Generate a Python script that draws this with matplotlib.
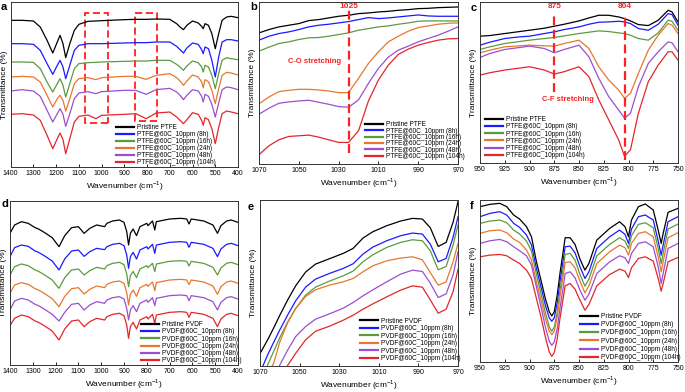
import matplotlib
matplotlib.use("Agg")
import matplotlib.pyplot as plt
from matplotlib.patches import Rectangle

plt.rcParams['font.family'] = ['Liberation Sans', 'DejaVu Sans']
plt.rcParams['mathtext.fontset'] = 'custom'
plt.rcParams['mathtext.rm'] = 'Liberation Sans'

colors = ['#000000', '#1a1aff', '#5b9b3f', '#e8772e', '#9a4fd0', '#e3262c']
ptfe_labels = ['Pristine PTFE', 'PTFE@60C_10ppm (8h)', 'PTFE@60C_10ppm (16h)',
               'PTFE@60C_10ppm (24h)', 'PTFE@60C_10ppm (48h)', 'PTFE@60C_10ppm (104h)']
pvdf_labels = ['Pristine PVDF', 'PVDF@60C_10ppm (8h)', 'PVDF@60C_10ppm (16h)',
               'PVDF@60C_10ppm (24h)', 'PVDF@60C_10ppm (48h)', 'PVDF@60C_10ppm (104h)']

# ---- panel a : PTFE full range (arbitrary transmittance units, curves stacked)
xa = [1400, 1350, 1300, 1270, 1240, 1215, 1195, 1183, 1170, 1158, 1140, 1120, 1100, 1060, 1025,
      1000, 900, 850, 804, 760, 700, 670, 655, 640, 625, 600, 575, 560, 553, 545, 530, 515, 500,
      485, 470, 450, 430, 400]
a_black = [440, 440, 438, 420, 380, 342, 375, 395, 370, 328, 370, 410, 428, 437, 438,
           439, 442, 443, 443, 444, 443, 430, 420, 412, 425, 438, 432, 422, 415, 430, 425, 400, 355,
           400, 440, 450, 452, 448]
a_8h = [370, 370, 368, 350, 310, 278, 305, 320, 300, 265, 305, 350, 365, 370, 370,
        370, 372, 373, 373, 375, 375, 362, 352, 342, 357, 372, 368, 352, 340, 360, 355, 320, 270,
        330, 375, 382, 382, 378]
a_16h = [315, 315, 314, 295, 255, 225, 250, 265, 245, 210, 250, 295, 310, 313, 314,
         315, 317, 318, 318, 320, 320, 308, 300, 290, 303, 318, 313, 300, 285, 305, 300, 275, 235,
         280, 320, 328, 325, 322]
a_24h = [270, 272, 270, 255, 215, 180, 205, 215, 200, 168, 205, 250, 265, 268, 262,
         268, 272, 272, 263, 275, 280, 268, 258, 245, 258, 276, 270, 255, 238, 262, 256, 230, 190,
         235, 275, 284, 282, 276]
a_48h = [228, 232, 228, 212, 170, 135, 160, 175, 158, 122, 160, 205, 222, 226, 220,
         226, 230, 230, 218, 232, 236, 225, 215, 202, 215, 232, 228, 212, 195, 218, 212, 188, 150,
         192, 232, 240, 238, 232]
a_104h = [158, 160, 156, 140, 95, 55, 85, 102, 82, 40, 85, 135, 152, 156, 145,
          155, 158, 160, 145, 162, 165, 150, 140, 130, 142, 163, 158, 140, 125, 148, 142, 115, 70,
          118, 160, 168, 165, 160]

# ---- panel b : PTFE 1070-970
xb = [1070, 1065, 1060, 1055, 1050, 1045, 1040, 1035, 1030, 1025, 1020, 1015, 1010, 1005, 1000,
      995, 990, 985, 980, 975, 970]
b_black = [395, 405, 413, 418, 423, 432, 435, 440, 445, 448, 453, 455, 458, 460, 463,
           465, 468, 469, 471, 472, 473]
b_8h = [373, 385, 393, 398, 405, 413, 418, 421, 425, 429, 435, 441, 438, 440, 443,
        446, 449, 446, 445, 445, 445]
b_16h = [340, 352, 363, 368, 375, 380, 381, 385, 390, 395, 403, 408, 413, 416, 421,
         425, 430, 431, 431, 431, 431]
b_24h = [181, 202, 218, 222, 225, 225, 223, 220, 215, 215, 258, 303, 338, 368, 385,
         400, 411, 416, 421, 424, 425]
b_48h = [150, 168, 183, 187, 190, 192, 186, 180, 173, 171, 193, 243, 288, 322, 343,
         355, 368, 378, 388, 400, 413]
b_104h = [28, 55, 73, 83, 85, 87, 81, 73, 65, 65, 100, 190, 253, 298, 330,
          346, 358, 366, 373, 377, 378]

# ---- panel c : PTFE 950-750
xc = [950, 940, 925, 910, 900, 885, 875, 865, 850, 840, 830, 820, 810, 804, 798, 790, 780, 770,
      760, 756, 750]
c_black = [382, 384, 390, 396, 400, 406, 412, 418, 428, 437, 445, 445, 440, 435, 428, 417, 414, 430,
           460, 455, 425]
c_8h = [355, 364, 375, 380, 382, 390, 395, 402, 410, 418, 424, 425, 427, 425, 420, 405, 400, 418,
        450, 447, 415]
c_16h = [342, 350, 360, 366, 370, 375, 378, 383, 390, 394, 398, 396, 392, 390, 385, 375, 370, 392,
         430, 427, 400]
c_24h = [332, 340, 350, 353, 355, 353, 352, 360, 370, 345, 290, 250, 220, 195, 210, 270, 340, 385,
         420, 415, 390]
c_48h = [318, 330, 342, 348, 352, 345, 332, 342, 355, 320, 255, 200, 160, 135, 150, 230, 300, 335,
         365, 362, 335]
c_104h = [265, 272, 280, 286, 290, 280, 268, 275, 290, 260, 190, 130, 70, 20, 40, 150, 245, 295,
          335, 335, 310]

# ---- panel d : PVDF full range
xd = [1400, 1380, 1350, 1320, 1290, 1275, 1250, 1215, 1185, 1160, 1130, 1100, 1075, 1050, 1020,
      985, 975, 950, 920, 900, 888, 880, 872, 860, 845, 830, 800, 795, 775, 765, 758, 700, 650,
      625, 615, 605, 550, 510, 490, 475, 450, 430, 400]
d_black = [395, 420, 430, 425, 412, 408, 398, 382, 355, 388, 412, 415, 395, 410, 420,
           415, 425, 432, 435, 428, 400, 360, 395, 408, 388, 415, 425, 418, 432, 405, 430, 438, 440,
           438, 423, 438, 432, 420, 395, 418, 432, 435, 428]
d_8h = [325, 352, 360, 356, 342, 338, 328, 312, 285, 318, 342, 345, 326, 340, 350,
        346, 355, 362, 365, 358, 330, 290, 325, 338, 318, 345, 355, 348, 362, 335, 360, 368, 370,
        368, 353, 368, 362, 350, 325, 348, 362, 365, 358]
d_16h = [270, 295, 303, 298, 285, 281, 271, 255, 230, 262, 285, 288, 270, 283, 293,
         288, 298, 305, 308, 301, 273, 235, 268, 281, 262, 288, 298, 292, 305, 280, 303, 311, 313,
         311, 297, 311, 305, 293, 270, 291, 305, 308, 301]
d_24h = [215, 240, 247, 242, 229, 225, 215, 199, 175, 206, 229, 232, 213, 227, 237,
         232, 242, 249, 252, 245, 217, 180, 212, 225, 206, 232, 242, 236, 249, 223, 247, 255, 257,
         255, 241, 255, 249, 237, 212, 235, 249, 252, 245]
d_48h = [165, 192, 200, 195, 182, 178, 168, 152, 132, 158, 182, 185, 165, 180, 190,
         185, 195, 202, 205, 198, 170, 135, 165, 178, 160, 185, 195, 188, 202, 178, 200, 208, 210,
         208, 193, 208, 202, 190, 165, 188, 202, 205, 198]
d_104h = [118, 140, 150, 145, 132, 128, 118, 102, 75, 108, 132, 135, 115, 130, 140,
          135, 145, 152, 155, 148, 120, 80, 115, 128, 108, 135, 145, 138, 152, 125, 150, 158, 160,
          158, 143, 158, 152, 140, 115, 138, 152, 155, 148]

# ---- panel e : PVDF 1070-970
xe = [1070, 1066, 1063, 1060, 1056, 1052, 1047, 1042, 1035, 1028, 1023, 1018, 1013, 1006, 999,
      993, 988, 984, 980, 976, 972.5, 970]
e_black = [37, 80, 115, 152, 198, 240, 281, 305, 321, 337, 352, 383, 402, 420, 434,
           442, 440, 414, 358, 370, 430, 492]
e_8h = [-20, 35, 72, 108, 153, 195, 236, 260, 277, 292, 306, 335, 356, 375, 390,
        398, 395, 365, 312, 322, 385, 447]
e_16h = [-60, 5, 45, 85, 132, 172, 212, 236, 254, 270, 284, 312, 333, 355, 370,
         378, 375, 345, 288, 298, 362, 422]
e_24h = [-90, -25, 10, 72, 130, 172, 208, 228, 242, 252, 262, 282, 300, 315, 323,
         327, 318, 280, 242, 252, 312, 367]
e_48h = [-130, -70, -30, 3, 48, 88, 118, 140, 156, 173, 190, 210, 228, 252, 275,
         287, 283, 248, 205, 216, 272, 342]
e_104h = [-200, -130, -80, -35, 2, 38, 78, 104, 119, 137, 152, 170, 186, 207, 227,
          240, 236, 198, 158, 170, 222, 290]

# ---- panel f : PVDF 950-750
xf = [950, 940, 930, 923, 916, 910, 903, 898, 893, 888, 884, 880, 877.5, 875, 872, 869, 866, 864,
      859, 854, 849, 844, 840, 832, 819, 809, 803.5, 800, 797, 790, 783, 775, 770, 767, 765, 760, 750]
f_black = [465, 472, 475, 465, 440, 428, 405, 375, 300, 240, 190, 150, 138, 150, 200, 270, 330, 372,
           372, 352, 308, 275, 295, 365, 400, 420, 405, 375, 425, 465, 473, 455, 395, 355, 385, 448, 460]
f_8h = [435, 445, 450, 440, 415, 403, 380, 350, 280, 220, 170, 132, 122, 132, 178, 245, 305, 345,
        347, 327, 285, 250, 270, 340, 375, 395, 382, 355, 398, 435, 440, 425, 362, 320, 350, 420, 435]
f_16h = [415, 422, 425, 417, 395, 383, 362, 332, 262, 200, 148, 105, 92, 104, 150, 220, 280, 322,
         325, 305, 262, 227, 248, 318, 352, 372, 362, 340, 378, 412, 417, 402, 340, 295, 325, 398, 413]
f_24h = [385, 393, 395, 387, 368, 358, 335, 305, 240, 180, 130, 92, 82, 92, 135, 200, 258, 298,
         300, 282, 242, 207, 228, 295, 330, 350, 342, 320, 355, 385, 390, 375, 315, 270, 300, 372, 387]
f_48h = [355, 363, 367, 360, 345, 333, 318, 290, 225, 160, 105, 62, 50, 60, 100, 165, 222, 265,
         270, 252, 215, 185, 203, 265, 300, 318, 312, 295, 325, 355, 360, 345, 285, 235, 265, 340, 355]
f_104h = [315, 320, 322, 318, 305, 295, 275, 250, 190, 130, 75, 30, 17, 28, 70, 135, 190, 228,
          235, 218, 185, 155, 172, 228, 262, 278, 272, 253, 282, 310, 315, 302, 250, 212, 235, 300, 313]

W, H = 685, 392
fig = plt.figure(figsize=(W / 100, H / 100), dpi=100)


def make_axes(left, right, top, bottom):
    return fig.add_axes([left / W, 1 - bottom / H, (right - left) / W, (bottom - top) / H])


def style(ax, xlim, xticks, ylim, leg_labels, leg_pos, spacing):
    ax.set_xlim(xlim)
    ax.set_ylim(ylim)
    ax.set_xticks(xticks)
    ax.set_yticks([])
    ax.tick_params(axis='x', direction='in', length=2.5, width=0.6, labelsize=5, pad=2)
    for s in ax.spines.values():
        s.set_linewidth(0.7)
        s.set_color('#333333')
    ax.set_xlabel('Wavenumber (cm$^{\\mathregular{-1}}$)', fontsize=6, labelpad=1.5)
    ax.set_ylabel('Transmittance (%)', fontsize=6, labelpad=2)
    leg = ax.legend(leg_labels, loc='lower left', bbox_to_anchor=leg_pos, frameon=False,
                    fontsize=4.7, handlelength=2.8, handletextpad=0.4, labelspacing=spacing,
                    borderpad=0.1, borderaxespad=0)
    for hnd in leg.legend_handles:
        hnd.set_linewidth(1.6)


def draw(ax, x, series):
    for y, c in zip(series, colors):
        ax.plot(x, y, color=c, lw=0.9)


red = '#ff2020'

# a
ax = make_axes(10.7, 238, 2, 167)
draw(ax, xa, [a_black, a_8h, a_16h, a_24h, a_48h, a_104h])
ax.add_patch(Rectangle((974, 132), 99, 330, fill=False, ec=red, lw=1.3, ls=(0, (4, 2))))
ax.add_patch(Rectangle((757, 138), 98, 324, fill=False, ec=red, lw=1.3, ls=(0, (4, 2))))
style(ax, (1400, 400), range(1400, 399, -100), (0, 495), ptfe_labels, (0.46, 0.0), 0.0)

# b
ax = make_axes(259, 458, 2, 164)
draw(ax, xb, [b_black, b_8h, b_16h, b_24h, b_48h, b_104h])
ax.plot([1025, 1025], [33, 463], color=red, lw=1.6, ls=(0, (4, 2)))
ax.text(1025, 474, '1025', color=red, fontsize=6, fontweight='bold', ha='center', va='center')
ax.text(1042, 308, 'C-O stretching', color=red, fontsize=5.5, fontweight='bold', ha='center', va='center')
style(ax, (1070, 970), range(1070, 969, -20), (0, 488), ptfe_labels, (0.53, 0.02), -0.1)

# c
ax = make_axes(480, 678, 2, 163)
draw(ax, xc, [c_black, c_8h, c_16h, c_24h, c_48h, c_104h])
ax.plot([875, 875], [215, 450], color=red, lw=1.6, ls=(0, (4, 2)))
ax.plot([804, 804], [10, 450], color=red, lw=1.6, ls=(0, (4, 2)))
ax.text(875, 472, '875', color=red, fontsize=6, fontweight='bold', ha='center', va='center')
ax.text(804, 472, '804', color=red, fontsize=6, fontweight='bold', ha='center', va='center')
ax.text(861, 192, 'C-F stretching', color=red, fontsize=5.5, fontweight='bold', ha='center', va='center')
style(ax, (950, 750), range(950, 749, -25), (0, 485), ptfe_labels, (0.02, 0.02), 0.03)

# d
ax = make_axes(10, 238, 201, 365)
draw(ax, xd, [d_black, d_8h, d_16h, d_24h, d_48h, d_104h])
style(ax, (1400, 400), range(1400, 399, -100), (0, 492), pvdf_labels, (0.57, 0.0), 0.04)

# e
ax = make_axes(260, 458, 200, 366)
draw(ax, xe, [e_black, e_8h, e_16h, e_24h, e_48h, e_104h])
style(ax, (1070, 970), range(1070, 969, -20), (0, 497), pvdf_labels, (0.5, 0.02), 0.07)

# f
ax = make_axes(480, 678, 200, 362)
draw(ax, xf, [f_black, f_8h, f_16h, f_24h, f_48h, f_104h])
style(ax, (950, 750), range(950, 749, -25), (0, 485), pvdf_labels, (0.5, 0.0), 0.2)

for lab, px, py in [('a', 1, 2), ('b', 250, 2), ('c', 471, 3), ('d', 1, 199), ('e', 248, 202), ('f', 470, 201)]:
    fig.text(px / W, 1 - py / H, lab, fontsize=8, fontweight='bold', va='top', ha='left')

fig.savefig('out.png', dpi=100)
